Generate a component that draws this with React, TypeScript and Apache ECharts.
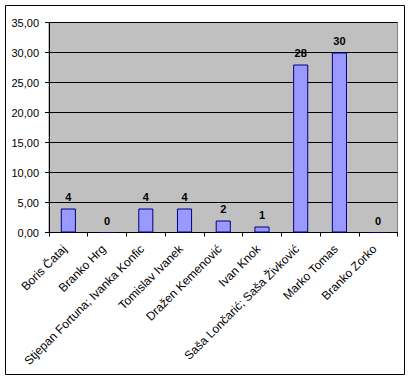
import React, { useEffect, useRef } from "react";
import * as echarts from "echarts";

const categories = [
  "Boris Čataj",
  "Branko Hrg",
  "Stjepan Fortuna; Ivanka Konfic",
  "Tomislav Ivanek",
  "Dražen Kemenović",
  "Ivan Knok",
  "Saša Lončarić; Saša Živković",
  "Marko Tomas",
  "Branko Zorko",
];
const values = [4, 0, 4, 4, 2, 1, 28, 30, 0];
const yTicks = { min: 0, max: 35, interval: 5 };

export default function App() {
  const ref = useRef<HTMLDivElement>(null);
  useEffect(() => {
    if (!ref.current) return;
    const chart = echarts.init(ref.current, null, { renderer: "svg" });
    const font = "'Liberation Sans', Arial, sans-serif";
    chart.setOption({
      animation: false,
      backgroundColor: "#ffffff",
      textStyle: { fontFamily: font },
      graphic: [
        {
          type: "rect",
          shape: { x: 5.5, y: 5.5, width: 399, height: 369 },
          style: { fill: "none", stroke: "#000000", lineWidth: 1 },
          z: 100,
        },
      ],
      grid: {
        left: 49,
        right: 12.5,
        top: 22.5,
        bottom: 147.5,
        show: true,
        backgroundColor: "#C0C0C0",
        borderColor: "#808080",
        borderWidth: 1,
      },
      xAxis: {
        type: "category",
        data: categories,
        boundaryGap: true,
        axisLine: { show: true, lineStyle: { color: "#000000", width: 1 } },
        axisTick: { show: true, length: 4, alignWithLabel: false, lineStyle: { color: "#000000" } },
        axisLabel: {
          rotate: 45,
          interval: 0,
          margin: 11,
          padding: [0, 5, 0, 0],
          fontSize: 12,
          color: "#000000",
          fontFamily: font,
        },
        splitLine: { show: false },
      },
      yAxis: {
        type: "value",
        min: yTicks.min,
        max: yTicks.max,
        interval: yTicks.interval,
        axisLine: { show: true, lineStyle: { color: "#000000", width: 1 } },
        axisTick: { show: true, length: 4, lineStyle: { color: "#000000" } },
        axisLabel: {
          fontSize: 11,
          color: "#000000",
          margin: 10,
          fontFamily: font,
          formatter: (v: number) => v.toFixed(2).replace(".", ","),
        },
        splitLine: { show: true, lineStyle: { color: "#000000", width: 1 } },
      },
      series: [
        {
          type: "bar",
          data: values,
          barWidth: "39%",
          itemStyle: { color: "#9999FF", borderColor: "#000080", borderWidth: 1 },
          label: {
            show: true,
            position: "top",
            distance: 6,
            fontSize: 11,
            fontWeight: "bold",
            color: "#000000",
            fontFamily: font,
          },
        },
      ],
    });
    return () => chart.dispose();
  }, []);
  return <div ref={ref} style={{ width: 410, height: 380, position: "absolute", left: 0, top: 0 }} />;
}
